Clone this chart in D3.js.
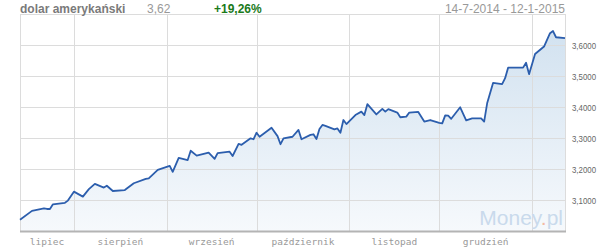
<!DOCTYPE html>
<html>
<head>
<meta charset="utf-8">
<script src="https://cdn.jsdelivr.net/npm/d3@7"></script>
<style>
  body { margin: 0; background: #fff; }
  svg { display: block; }
</style>
</head>
<body>
<div id="chart"></div>
<script>
// kurs USD/PLN
const dates = [
  "2014-07-14","2014-07-18","2014-07-22","2014-07-23","2014-07-24","2014-07-25","2014-07-29","2014-07-30",
  "2014-08-01","2014-08-04","2014-08-06","2014-08-08","2014-08-11","2014-08-12","2014-08-14","2014-08-18",
  "2014-08-21","2014-08-25","2014-08-26","2014-08-29","2014-09-02","2014-09-03","2014-09-05","2014-09-08",
  "2014-09-09","2014-09-11","2014-09-15","2014-09-17","2014-09-18","2014-09-22","2014-09-23","2014-09-25",
  "2014-09-26","2014-09-29","2014-09-30","2014-10-01","2014-10-02","2014-10-06","2014-10-08","2014-10-09",
  "2014-10-10","2014-10-13","2014-10-15","2014-10-16","2014-10-19","2014-10-20","2014-10-21","2014-10-22",
  "2014-10-23","2014-10-24","2014-10-27","2014-10-28","2014-10-29","2014-10-30","2014-10-31","2014-11-03",
  "2014-11-05","2014-11-06","2014-11-07","2014-11-10","2014-11-12","2014-11-13","2014-11-14","2014-11-17",
  "2014-11-18","2014-11-20","2014-11-21","2014-11-24","2014-11-26","2014-11-28","2014-12-01","2014-12-02",
  "2014-12-03","2014-12-04","2014-12-05","2014-12-08","2014-12-10","2014-12-12","2014-12-15","2014-12-16",
  "2014-12-17","2014-12-19","2014-12-22","2014-12-23","2014-12-24","2014-12-29","2014-12-30","2014-12-31",
  "2015-01-02","2015-01-05","2015-01-07","2015-01-08","2015-01-09","2015-01-12"
];
const values = [
  3.036, 3.065, 3.073, 3.071, 3.071, 3.086, 3.091, 3.098,
  3.127, 3.111, 3.135, 3.152, 3.140, 3.146, 3.129, 3.132,
  3.154, 3.168, 3.170, 3.197, 3.210, 3.191, 3.236, 3.229,
  3.259, 3.243, 3.253, 3.233, 3.251, 3.256, 3.242, 3.281,
  3.278, 3.299, 3.296, 3.317, 3.304, 3.333, 3.306, 3.280,
  3.299, 3.304, 3.326, 3.296, 3.310, 3.312, 3.297, 3.329,
  3.342, 3.339, 3.328, 3.331, 3.317, 3.358, 3.345, 3.374,
  3.385, 3.374, 3.409, 3.376, 3.394, 3.385, 3.393, 3.382,
  3.367, 3.369, 3.382, 3.384, 3.353, 3.358, 3.349, 3.347,
  3.373, 3.372, 3.362, 3.399, 3.357, 3.363, 3.363, 3.353,
  3.412, 3.478, 3.474, 3.493, 3.527, 3.527, 3.543, 3.506,
  3.571, 3.595, 3.638, 3.645, 3.625, 3.622
];
const yTicks = [3.1, 3.2, 3.3, 3.4, 3.5, 3.6];
const monthStarts = ["2014-08-01","2014-09-01","2014-10-01","2014-11-01","2014-12-01","2015-01-01"];
const monthNames = ["lipiec","sierpień","wrzesień","październik","listopad","grudzień"];

const title = "dolar amerykański";
const lastValue = "3,62";
const change = "+19,26%";
const range = "14-7-2014 - 12-1-2015";

const width = 600, height = 250;
const plotLeft = 20, plotRight = 565, plotTop = 14, plotBottom = 231;

const parse = d3.utcParse("%Y-%m-%d");
const data = dates.map((d, i) => ({ date: parse(d), value: values[i] }));
const starts = monthStarts.map(parse);

const x = d3.scaleUtc()
  .domain([parse("2014-07-14"), parse("2015-01-12")])
  .range([plotLeft, plotRight]);
const y = d3.scaleLinear()
  .domain([3.0, 3.7])
  .range([plotBottom, plotTop]);

const svg = d3.select("#chart")
  .append("svg")
  .attr("width", width)
  .attr("height", height);

const grad = svg.append("defs")
  .append("linearGradient")
  .attr("id", "fill")
  .attr("gradientUnits", "userSpaceOnUse")
  .attr("x1", 0).attr("x2", 0)
  .attr("y1", plotTop).attr("y2", plotBottom);
grad.append("stop").attr("offset", "0%").attr("stop-color", "#cfe0ef");
grad.append("stop").attr("offset", "100%").attr("stop-color", "#f6f9fc");

// obszar pod linią
svg.append("path")
  .datum(data)
  .attr("fill", "url(#fill)")
  .attr("d", d3.area().x(d => x(d.date)).y0(plotBottom).y1(d => y(d.value)));

// siatka
const grid = svg.append("g").attr("stroke", "#dcdcdc").attr("stroke-width", 1);
grid.selectAll(".h")
  .data(yTicks.concat([3.7]))
  .enter().append("line")
  .attr("x1", plotLeft).attr("x2", plotRight)
  .attr("y1", d => Math.round(y(d)) + 0.5)
  .attr("y2", d => Math.round(y(d)) + 0.5);
grid.selectAll(".v")
  .data(starts)
  .enter().append("line")
  .attr("x1", d => Math.round(x(d)) + 0.5)
  .attr("x2", d => Math.round(x(d)) + 0.5)
  .attr("y1", plotTop).attr("y2", plotBottom);
grid.append("line")
  .attr("x1", plotLeft + 0.5).attr("x2", plotLeft + 0.5)
  .attr("y1", plotTop).attr("y2", plotBottom);
grid.append("line")
  .attr("x1", plotRight + 0.5).attr("x2", plotRight + 0.5)
  .attr("y1", plotTop).attr("y2", plotBottom);

// linia kursu
svg.append("path")
  .datum(data)
  .attr("fill", "none")
  .attr("stroke", "#2c5ead")
  .attr("stroke-width", 1.8)
  .attr("stroke-linejoin", "round")
  .attr("d", d3.line().x(d => x(d.date)).y(d => y(d.value)));

// oś dolna
svg.append("line")
  .attr("x1", plotLeft).attr("x2", plotRight + 1)
  .attr("y1", plotBottom + 0.5).attr("y2", plotBottom + 0.5)
  .attr("stroke", "#b4b4b4")
  .attr("stroke-width", 2);

// znak wodny
const wm = svg.append("text")
  .attr("x", plotRight - 2)
  .attr("y", 225)
  .attr("text-anchor", "end")
  .attr("font-family", "Liberation Sans Narrow, Arial Narrow, Liberation Sans, sans-serif")
  .attr("font-size", 21)
  .attr("fill", "#c9daec");
wm.append("tspan").text("Money");
wm.append("tspan").attr("fill", "#f3b9a3").text(".");
wm.append("tspan").text("pl");

// etykiety osi Y
svg.append("g")
  .selectAll("text")
  .data(yTicks)
  .enter().append("text")
  .attr("x", 572)
  .attr("y", d => y(d) + 4)
  .attr("font-family", "Liberation Sans, Arial, sans-serif")
  .attr("font-size", 9.5)
  .attr("textLength", 24)
  .attr("lengthAdjust", "spacingAndGlyphs")
  .attr("fill", "#666")
  .text(d => d3.format(".4f")(d).replace(".", ","));

// etykiety miesięcy
const bounds = [x.domain()[0]].concat(starts);
svg.append("g")
  .selectAll("text")
  .data(monthNames)
  .enter().append("text")
  .attr("x", (d, i) => (x(bounds[i]) + x(bounds[i + 1])) / 2)
  .attr("y", 245)
  .attr("text-anchor", "middle")
  .attr("font-family", "DejaVu Sans Mono, monospace")
  .attr("font-size", 9.5)
  .attr("fill", "#999")
  .text(d => d);

// nagłówek
svg.append("text")
  .attr("x", 20).attr("y", 13)
  .attr("font-family", "Liberation Sans, Arial, sans-serif")
  .attr("font-size", 12).attr("font-weight", "bold")
  .attr("fill", "#7a7a7a")
  .text(title);
svg.append("text")
  .attr("x", 147).attr("y", 13)
  .attr("font-family", "Liberation Sans, Arial, sans-serif")
  .attr("font-size", 12)
  .attr("fill", "#999")
  .text(lastValue);
svg.append("text")
  .attr("x", 214).attr("y", 13)
  .attr("font-family", "Liberation Sans, Arial, sans-serif")
  .attr("font-size", 12).attr("font-weight", "bold")
  .attr("fill", "#1a7a1a")
  .text(change);
svg.append("text")
  .attr("x", plotRight).attr("y", 13)
  .attr("text-anchor", "end")
  .attr("font-family", "Liberation Sans, Arial, sans-serif")
  .attr("font-size", 12)
  .attr("fill", "#999")
  .text(range);
</script>
</body>
</html>
